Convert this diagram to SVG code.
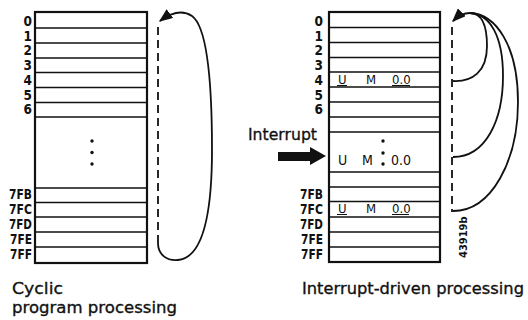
<svg xmlns="http://www.w3.org/2000/svg" width="528" height="320" viewBox="0 0 528 320">
  <style>
    .box { fill: #fff; stroke: #111; stroke-width: 2.2; }
    .row { stroke: #111; stroke-width: 1.6; fill: none; }
    .addr { font-family: "DejaVu Sans Condensed", "DejaVu Sans", sans-serif; font-stretch: condensed; font-weight: bold; font-size: 13.5px; fill: #111; text-anchor: end; }
    .cell { font-family: "DejaVu Sans Condensed", "DejaVu Sans", sans-serif; font-stretch: condensed; font-size: 13px; fill: #111; }
    .cap { font-family: "DejaVu Sans", "Liberation Sans", sans-serif; font-size: 16.5px; fill: #111; stroke: #111; stroke-width: 0.35; }
    .dash { stroke: #111; stroke-width: 1.8; stroke-dasharray: 8 5; fill: none; }
    .loop { stroke: #111; stroke-width: 1.8; fill: none; }
    .ul { stroke: #111; stroke-width: 1.2; }
  </style>
  <defs>
    <marker id="head" viewBox="0 0 10 8" refX="9" refY="4" markerWidth="14" markerHeight="11" markerUnits="userSpaceOnUse" orient="auto">
      <path d="M0,0 L10,4 L0,8 z" fill="#111"/>
    </marker>
  </defs>

  <!-- Cyclic program processing memory -->
  <g id="memory-cyclic">
    <rect class="box" x="35" y="12" width="112" height="251"/>
    <path class="row" d="M35,28H147 M35,43H147 M35,58H147 M35,72.5H147 M35,87.5H147 M35,102.5H147 M35,117H147 M35,188H147 M35,202.5H147 M35,217H147 M35,232H147 M35,247H147"/>
    <circle cx="92" cy="141" r="1.7" fill="#111"/>
    <circle cx="92" cy="152.5" r="1.7" fill="#111"/>
    <circle cx="92" cy="164" r="1.7" fill="#111"/>
    <text class="addr" x="32" y="25.5">0</text>
    <text class="addr" x="32" y="40.5">1</text>
    <text class="addr" x="32" y="55">2</text>
    <text class="addr" x="32" y="69.5">3</text>
    <text class="addr" x="32" y="84.5">4</text>
    <text class="addr" x="32" y="99.5">5</text>
    <text class="addr" x="32" y="114">6</text>
    <text class="addr" x="32" y="198.5" textLength="23" lengthAdjust="spacingAndGlyphs">7FB</text>
    <text class="addr" x="32" y="213.5" textLength="23" lengthAdjust="spacingAndGlyphs">7FC</text>
    <text class="addr" x="32" y="228.5" textLength="23" lengthAdjust="spacingAndGlyphs">7FD</text>
    <text class="addr" x="32" y="243.5" textLength="22" lengthAdjust="spacingAndGlyphs">7FE</text>
    <text class="addr" x="32" y="258.5" textLength="22" lengthAdjust="spacingAndGlyphs">7FF</text>
  </g>

  <!-- Interrupt-driven processing memory -->
  <g id="memory-interrupt">
    <rect class="box" x="329" y="12" width="111" height="250"/>
    <path class="row" d="M329,27.5H440 M329,42.5H440 M329,57.5H440 M329,72H440 M329,87H440 M329,102H440 M329,117H440 M329,132H440 M329,172H440 M329,187H440 M329,201.5H440 M329,217H440 M329,232H440 M329,247H440"/>
    <text class="addr" x="323" y="25.5">0</text>
    <text class="addr" x="323" y="40.5">1</text>
    <text class="addr" x="323" y="55">2</text>
    <text class="addr" x="323" y="69.5">3</text>
    <text class="addr" x="323" y="84.5">4</text>
    <text class="addr" x="323" y="99.5">5</text>
    <text class="addr" x="323" y="114">6</text>
    <text class="addr" x="323" y="198.5" textLength="23" lengthAdjust="spacingAndGlyphs">7FB</text>
    <text class="addr" x="323" y="213.5" textLength="23" lengthAdjust="spacingAndGlyphs">7FC</text>
    <text class="addr" x="323" y="228.5" textLength="23" lengthAdjust="spacingAndGlyphs">7FD</text>
    <text class="addr" x="323" y="243.5" textLength="22" lengthAdjust="spacingAndGlyphs">7FE</text>
    <text class="addr" x="323" y="258.5" textLength="22" lengthAdjust="spacingAndGlyphs">7FF</text>
    <!-- statement at address 4 -->
    <text class="cell" x="338" y="84">U</text>
    <text class="cell" x="366" y="84">M</text>
    <text class="cell" x="392" y="84">0.0</text>
    <path class="ul" d="M337,85.5H347 M392,85.5H410"/>
    <!-- statement inside the block -->
    <circle cx="383" cy="141" r="1.7" fill="#111"/>
    <circle cx="383" cy="153" r="1.7" fill="#111"/>
    <circle cx="383" cy="164" r="1.7" fill="#111"/>
    <text class="cell" x="338" y="165" style="font-size:14px">U</text>
    <text class="cell" x="362" y="165" style="font-size:14px">M</text>
    <text class="cell" x="391" y="165" style="font-size:14px">0.0</text>
    <!-- statement at address 7FC -->
    <text class="cell" x="338" y="213">U</text>
    <text class="cell" x="366" y="213">M</text>
    <text class="cell" x="392" y="213">0.0</text>
    <path class="ul" d="M337,214.5H347 M392,214.5H409"/>
  </g>

  <!-- Interrupt signal -->
  <g id="interrupt">
    <text class="cap" x="248" y="140" textLength="69" lengthAdjust="spacingAndGlyphs">Interrupt</text>
    <polygon points="278,152 310,152 310,147 326,156 310,165 310,161 278,161" fill="#111"/>
  </g>

  <!-- Program flow connectors -->
  <g id="connectors">
    <line class="dash" x1="158" y1="27" x2="158" y2="243"/>
    <path class="loop" d="M158,243 C158,255 167,261 178,260 C200,258 212,222 212,150 C212,72 206,26 192,16 C183,10 172,12 160,21" marker-end="url(#head)"/>

    <line class="dash" x1="452" y1="27" x2="452" y2="212"/>
    <path class="loop" d="M453,81 C472,82 487,72 487,46 C487,22 480,13 470,13"/>
    <path class="loop" d="M453,157 C486,157 503,120 503,76 C503,36 490,14 470,13"/>
    <path class="loop" d="M453,211 C492,211 518,160 518,102 C518,46 496,14 470,13"/>
    <path class="loop" d="M470,13 C464,13 458,16 453,21" marker-end="url(#head)"/>
  </g>

  <!-- Captions -->
  <g id="captions">
    <text class="cap" x="12" y="294" textLength="51" lengthAdjust="spacingAndGlyphs">Cyclic</text>
    <text class="cap" x="12" y="313" textLength="165" lengthAdjust="spacingAndGlyphs">program processing</text>
    <text class="cap" x="302" y="294" textLength="222" lengthAdjust="spacingAndGlyphs">Interrupt-driven processing</text>
    <text transform="translate(467,258) rotate(-90)" style="font-family:'DejaVu Sans Condensed','DejaVu Sans',sans-serif;font-stretch:condensed;font-weight:bold;font-size:11px;fill:#111">43919b</text>
  </g>
</svg>
